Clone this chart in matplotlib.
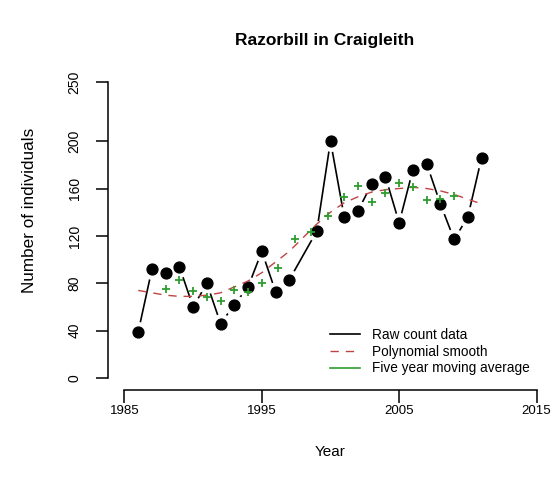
import matplotlib.pyplot as plt

plt.rcParams['font.family'] = ['Liberation Sans', 'DejaVu Sans']

# Raw counts (1998 has no count)
years = [1986, 1987, 1988, 1989, 1990, 1991, 1992, 1993, 1994, 1995, 1996, 1997,
         1999, 2000, 2001, 2002, 2003, 2004, 2005, 2006, 2007, 2008, 2009, 2010, 2011]
counts = [39, 92, 89, 94, 60, 80, 46, 62, 77, 107, 73, 83,
          124, 200, 136, 141, 164, 170, 131, 176, 181, 147, 117, 136, 186]

# Polynomial smooth, read at the count years
smooth = [74, 72, 70, 69, 69, 70, 72, 77, 82, 89, 98, 107,
          130, 140, 148, 153, 157, 159, 160, 161, 160, 158, 155, 151, 147]

# Five year moving average (x = centre of each 5-count window)
ma_years = [1988, 1989, 1990, 1991, 1992, 1993, 1994, 1995, 1996.2, 1997.4,
            1998.6, 1999.8, 2001, 2002, 2003, 2004, 2005, 2006, 2007, 2008, 2009]
ma_vals = [74.8, 83, 73.8, 68.4, 65, 74.4, 73, 80.4, 92.8, 117.4,
           123.2, 136.8, 153, 162.2, 148.4, 156.4, 164.4, 161, 150.4, 151.4, 153.4]

x_ticks = [1985, 1995, 2005, 2015]
y_ticks = [0, 40, 80, 120, 160, 200, 250]

RED = '#c04444'
GREEN = '#2e9e2e'

W, H = 553, 490
fig = plt.figure(figsize=(W / 100, H / 100), dpi=100)
ax = fig.add_axes([108 / W, 1 - 390 / H, (W - 108) / W, 320 / H])
ax.set_xlim(1983.8, 2016.2)
ax.set_ylim(-10, 260)

# raw counts, R type="b": line with gaps round the points
ax.plot(years, counts, color='black', lw=1.2, zorder=2, label='Raw count data')
ax.plot(years, counts, 'o', ms=14, color='white', zorder=3)
ax.plot(years, counts, 'o', ms=7.8, color='black', zorder=4)

ax.plot(years, smooth, color=RED, lw=1.0, dashes=(6, 5), zorder=5,
        label='Polynomial smooth')
ax.plot(ma_years, ma_vals, '+', color=GREEN, ms=5.5, mew=1.3, zorder=6)
ax.plot([], [], color=GREEN, lw=1.2, label='Five year moving average')

for side in ('top', 'right'):
    ax.spines[side].set_visible(False)
ax.spines['left'].set_bounds(0, 250)
ax.spines['bottom'].set_bounds(1985, 2015)
ax.spines['left'].set_linewidth(1.1)
ax.spines['bottom'].set_linewidth(1.1)

ax.set_xticks(x_ticks)
ax.set_xticklabels([str(t) for t in x_ticks], fontsize=9.5)
ax.set_yticks(y_ticks)
ax.set_yticklabels([str(t) for t in y_ticks], fontsize=10, rotation=90, va='center')
ax.tick_params(axis='both', length=9, width=1.1)
ax.tick_params(axis='x', pad=2)
ax.tick_params(axis='y', pad=10)

fig.text(30 / W, 1 - 210 / H, 'Number of individuals', rotation=90,
         ha='center', va='center', fontsize=12.3)
fig.text(330 / W, 1 - 452 / H, 'Year', ha='center', va='center', fontsize=11)
fig.text(325 / W, 1 - 40 / H, 'Razorbill in Craigleith', ha='center', va='center',
         fontsize=12.5, fontweight='bold')

ax.legend(loc='upper left', bbox_to_anchor=(330 / W, 1 - 328 / H),
          bbox_transform=fig.transFigure, frameon=False, fontsize=9.8,
          handlelength=2.2, handletextpad=0.9, labelspacing=0.2,
          borderpad=0, borderaxespad=0)

fig.savefig('out.png', dpi=100)
